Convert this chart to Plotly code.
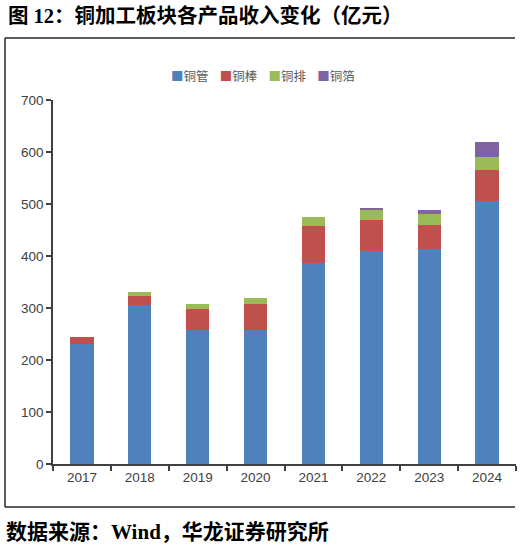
import plotly.graph_objects as go

years = ["2017", "2018", "2019", "2020", "2021", "2022", "2023", "2024"]
tube = [231, 305, 258, 257, 387, 410, 413, 506]      # 铜管
rod = [13, 18, 40, 51, 71, 60, 47, 60]               # 铜棒
bar = [0, 7, 10, 11, 17, 19, 21, 24]                 # 铜排
foil = [0, 0, 0, 0, 0, 2, 7, 29]                     # 铜箔

W, H = 521, 547
L, R, T, B = 53, 516, 100, 464   # plot area in pixels


def px(x):
    return (x - L) / (R - L)


def py(y):
    return (B - y) / (B - T)


series = [("铜管", tube, "#4F81BD"), ("铜棒", rod, "#C0504D"),
          ("铜排", bar, "#9BBB59"), ("铜箔", foil, "#8064A2")]

fig = go.Figure()
for name, vals, color in series:
    fig.add_trace(go.Bar(x=years, y=vals, name=name, marker_color=color,
                         marker_line_width=0, showlegend=False))

# hand-made legend, plotly's own one spaces the items too wide
legend_text = "&nbsp;&nbsp;&nbsp;&nbsp;".join(
    "<span style='color:%s'>■</span>%s" % (c, n) for n, _, c in series)

line = dict(color="#262626", width=1.5)
fig.update_layout(
    width=W, height=H,
    margin=dict(l=L, r=W - R, t=T, b=H - B),
    barmode="stack", bargap=0.6, hovermode=False,
    plot_bgcolor="white", paper_bgcolor="white",
    font=dict(family="Liberation Sans, Arial, Noto Sans CJK SC", size=13.5, color="#404040"),
    xaxis=dict(showline=True, linecolor="#404040", linewidth=1.5, ticks="outside",
               tickson="boundaries", ticklen=5, tickcolor="#404040", tickwidth=1.5,
               range=[-0.5, 7.5], showgrid=False),
    yaxis=dict(range=[0, 700], dtick=100, showgrid=False, zeroline=False, showline=True,
               linecolor="#404040", linewidth=1.5, ticks="outside", ticklen=5,
               tickcolor="#404040", tickwidth=1.5),
    shapes=[
        dict(type="line", xref="paper", yref="paper", x0=px(5), x1=px(5), y0=py(38), y1=py(507), line=line),
        dict(type="line", xref="paper", yref="paper", x0=px(5), x1=px(515), y0=py(38), y1=py(38), line=line),
        dict(type="line", xref="paper", yref="paper", x0=px(5), x1=px(515), y0=py(507), y1=py(507), line=line),
        # white strip on the right edge, the chart has no right border
        dict(type="rect", xref="paper", yref="paper", x0=px(516.5), x1=px(522), y0=py(39), y1=py(462),
             fillcolor="white", line_width=0, layer="above"),
    ],
    annotations=[
        dict(text="<b>图 12：铜加工板块各产品收入变化（亿元）</b>", xref="paper", yref="paper",
             x=px(6), y=py(16), xanchor="left", yanchor="middle", showarrow=False,
             font=dict(size=20.5, color="black", family="Liberation Serif, Noto Sans CJK SC")),
        dict(text="<b>数据来源：Wind，华龙证券研究所</b>", xref="paper", yref="paper",
             x=px(4), y=py(532), xanchor="left", yanchor="middle", showarrow=False,
             font=dict(size=21, color="black", family="Liberation Serif, Noto Sans CJK SC")),
        dict(text=legend_text, xref="paper", yref="paper",
             x=px(263), y=py(75), xanchor="center", yanchor="middle", showarrow=False,
             font=dict(size=12.5, color="#595959", family="Noto Sans CJK SC")),
    ],
)

# drop the page's default 8px body margin so the figure sits at the window corner
fig.write_html("out.html", config={"displayModeBar": False},
               post_script="document.body.style.margin='0';"
                           "document.documentElement.style.overflow='hidden';")
